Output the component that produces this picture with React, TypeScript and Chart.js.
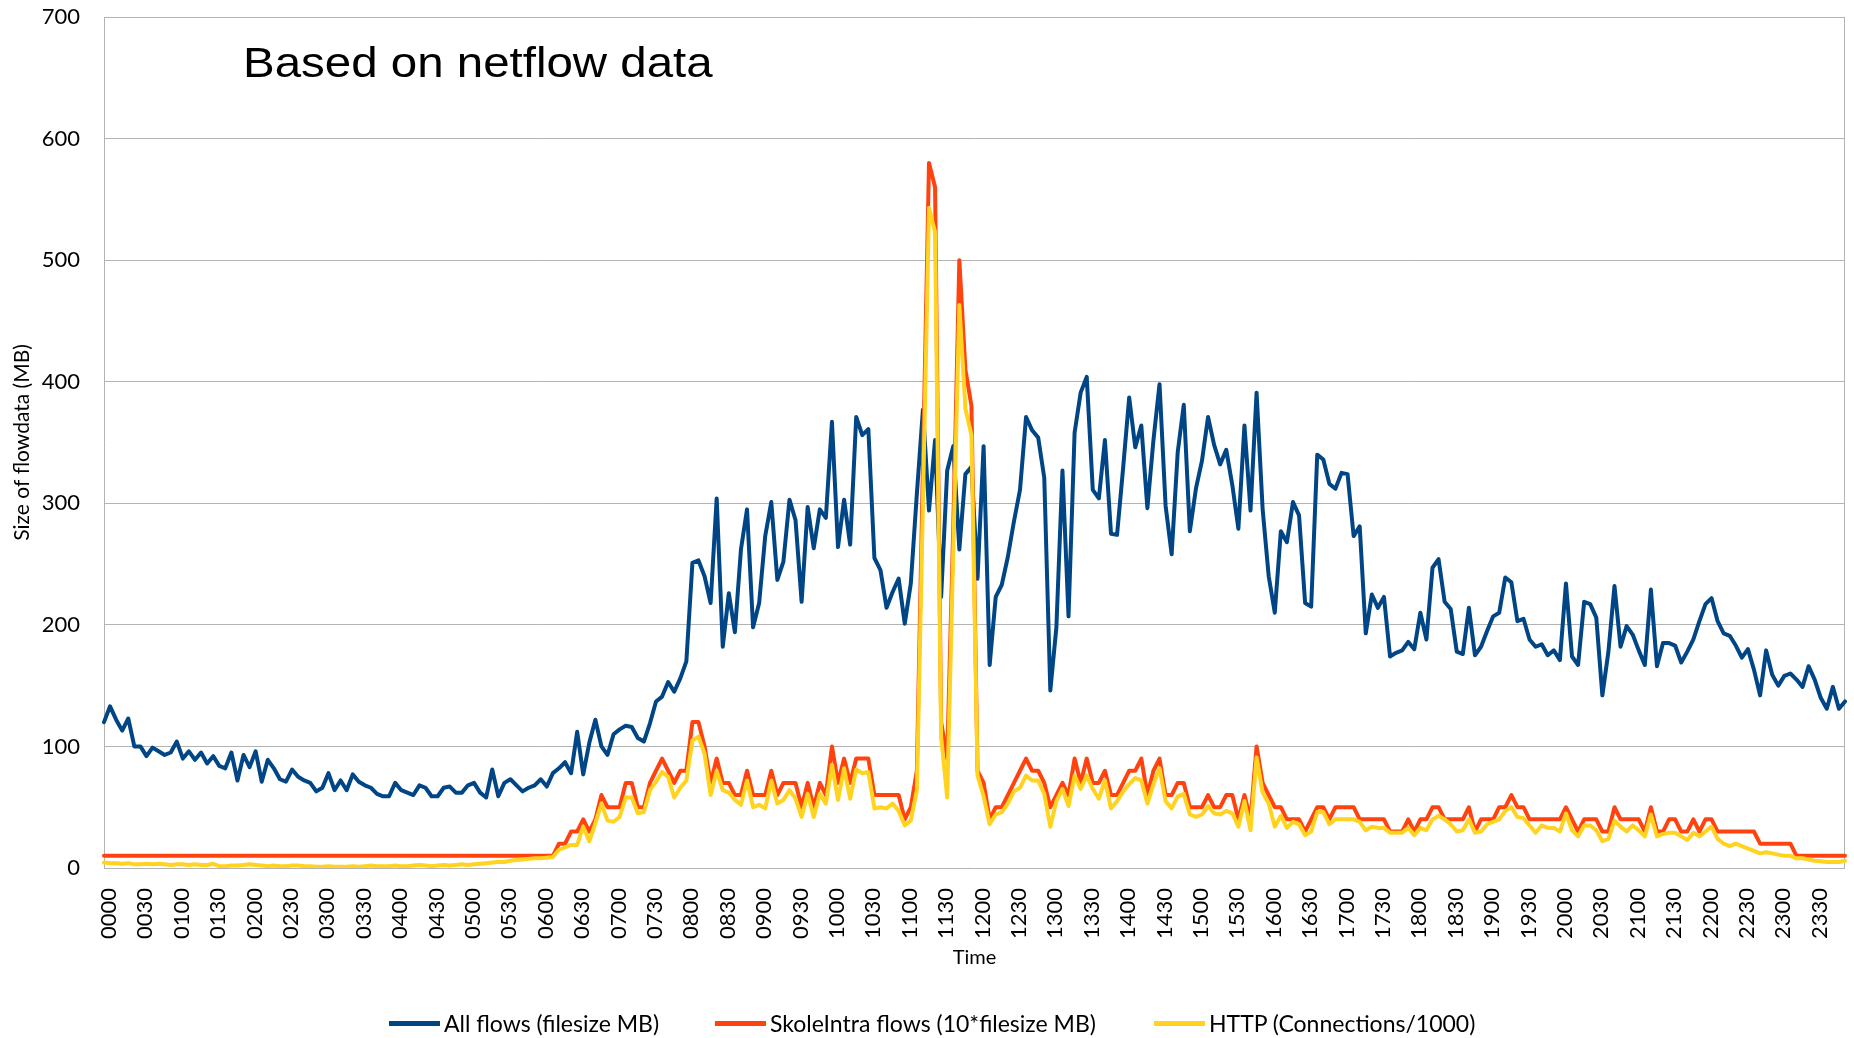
import React, { useEffect, useRef } from "react";
import { Chart, registerables } from "chart.js";

Chart.register(...registerables);

// Categories: one sample every 5 minutes, 0000 .. 2355
const CATEGORIES: string[] = [];
for (let h = 0; h < 24; h++) {
  for (let m = 0; m < 60; m += 5) {
    CATEGORIES.push(String(h).padStart(2, "0") + String(m).padStart(2, "0"));
  }
}
const TICK_EVERY = 6; // a label every 30 minutes

const SERIES_NAMES = [
  "All flows (filesize MB)",
  "SkoleIntra flows (10*filesize MB)",
  "HTTP (Connections/1000)",
];
const SERIES_COLORS = ["#004586", "#ff420e", "#ffd320"];

const Y_MIN = 0;
const Y_MAX = 700;
const Y_STEP = 100;

const ALL_FLOWS = [
  120, 133, 122, 113, 123, 100, 100, 92, 99, 96,
  93, 95, 104, 90, 96, 89, 95, 86, 92, 84,
  82, 95, 72, 93, 83, 96, 71, 89, 82, 73,
  71, 81, 75, 72, 70, 63, 66, 78, 64, 72,
  64, 77, 71, 68, 66, 61, 59, 59, 70, 64,
  62, 60, 68, 66, 59, 59, 66, 67, 62, 62,
  68, 70, 62, 58, 81, 59, 70, 73, 68, 63,
  66, 68, 73, 67, 78, 82, 87, 78, 112, 77,
  103, 122, 100, 93, 110, 114, 117, 116, 107, 104,
  119, 137, 141, 153, 145, 156, 170, 251, 253, 240,
  218, 304, 182, 226, 194, 262, 295, 198, 218, 273,
  301, 237, 252, 303, 286, 219, 297, 263, 295, 288,
  367, 264, 303, 266, 371, 356, 361, 255, 245, 214,
  227, 238, 201, 234, 308, 377, 294, 352, 223, 327,
  347, 262, 324, 330, 238, 347, 167, 223, 233, 256,
  285, 311, 371, 360, 354, 321, 146, 198, 327, 207,
  358, 391, 404, 311, 304, 352, 275, 274, 329, 387,
  346, 364, 296, 352, 398, 298, 258, 342, 381, 277,
  312, 335, 371, 348, 332, 344, 315, 279, 364, 294,
  391, 295, 240, 210, 277, 268, 301, 290, 218, 215,
  340, 336, 316, 312, 325, 324, 273, 281, 193, 225,
  214, 223, 174, 177, 179, 186, 180, 210, 188, 247,
  254, 219, 213, 178, 176, 214, 175, 182, 195, 207,
  210, 239, 235, 203, 205, 188, 182, 184, 175, 179,
  171, 234, 174, 167, 219, 217, 206, 142, 178, 232,
  182, 199, 192, 179, 167, 229, 166, 185, 185, 183,
  169, 178, 188, 203, 217, 222, 203, 193, 191, 183,
  173, 180, 163, 142, 179, 159, 150, 158, 160, 155,
  149, 166, 155, 140, 131, 149, 131, 137,
];

const SKOLEINTRA_FLOWS = [
  10, 10, 10, 10, 10, 10, 10, 10, 10, 10,
  10, 10, 10, 10, 10, 10, 10, 10, 10, 10,
  10, 10, 10, 10, 10, 10, 10, 10, 10, 10,
  10, 10, 10, 10, 10, 10, 10, 10, 10, 10,
  10, 10, 10, 10, 10, 10, 10, 10, 10, 10,
  10, 10, 10, 10, 10, 10, 10, 10, 10, 10,
  10, 10, 10, 10, 10, 10, 10, 10, 10, 10,
  10, 10, 10, 10, 10, 20, 20, 30, 30, 40,
  30, 40, 60, 50, 50, 50, 70, 70, 50, 50,
  70, 80, 90, 80, 70, 80, 80, 120, 120, 100,
  70, 90, 70, 70, 60, 60, 80, 60, 60, 60,
  80, 60, 70, 70, 70, 50, 70, 50, 70, 60,
  100, 70, 90, 70, 90, 90, 90, 60, 60, 60,
  60, 60, 40, 50, 80, 330, 580, 560, 120, 90,
  280, 500, 410, 380, 80, 70, 40, 50, 50, 60,
  70, 80, 90, 80, 80, 70, 50, 60, 70, 60,
  90, 70, 90, 70, 70, 80, 60, 60, 70, 80,
  80, 90, 60, 80, 90, 60, 60, 70, 70, 50,
  50, 50, 60, 50, 50, 60, 60, 40, 60, 40,
  100, 70, 60, 50, 50, 40, 40, 40, 30, 40,
  50, 50, 40, 50, 50, 50, 50, 40, 40, 40,
  40, 40, 30, 30, 30, 40, 30, 40, 40, 50,
  50, 40, 40, 40, 40, 50, 30, 40, 40, 40,
  50, 50, 60, 50, 50, 40, 40, 40, 40, 40,
  40, 50, 40, 30, 40, 40, 40, 30, 30, 50,
  40, 40, 40, 40, 30, 50, 30, 30, 40, 40,
  30, 30, 40, 30, 40, 40, 30, 30, 30, 30,
  30, 30, 30, 20, 20, 20, 20, 20, 20, 10,
  10, 10, 10, 10, 10, 10, 10, 10,
];

const HTTP_CONNECTIONS = [
  4.5, 4, 4, 3.5, 4, 3, 3, 3.5, 3, 3.5,
  3, 2.5, 3, 3, 2.5, 3, 2.5, 2.5, 3.5, 1.5,
  1.5, 2, 2, 2.5, 3, 2.5, 2, 1.5, 2, 1.5,
  1.5, 2, 2, 1.5, 1.5, 1, 1, 1.5, 1, 1,
  1, 1.5, 1, 1.5, 2, 1.5, 1.5, 1.5, 2, 1.5,
  1.5, 2, 2.5, 2, 1.5, 2, 2.5, 2, 2.5, 3,
  2.5, 3, 3.5, 4, 4.5, 5, 5, 6, 6.5, 7,
  7.5, 8, 8, 8.5, 9, 15, 17, 19, 19, 34,
  22, 37, 53, 39, 38, 42, 58, 58, 45, 46,
  64, 71, 79, 75, 58, 66, 72, 105, 108, 94,
  60, 80, 64, 62, 56, 52, 72, 50, 52, 49,
  72, 53, 56, 64, 57, 42, 61, 42, 61, 53,
  85, 56, 82, 57, 81, 78, 79, 49, 50, 49,
  53, 47, 35, 39, 64, 300, 543, 523, 108, 58,
  260, 463, 378, 356, 76, 59, 36, 44, 46, 53,
  63, 66, 76, 72, 72, 61, 34, 55, 65, 51,
  76, 65, 76, 65, 57, 72, 49, 55, 63, 69,
  74, 72, 53, 69, 82, 55, 49, 59, 61, 44,
  42, 44, 51, 45, 44, 47, 45, 34, 55, 31,
  91, 62, 53, 34, 43, 33, 38, 36, 27, 30,
  46, 46, 36, 40, 40, 40, 40, 38, 31, 34,
  33, 33, 29, 29, 29, 33, 27, 33, 31, 40,
  43, 40, 36, 30, 31, 40, 29, 30, 36, 38,
  40, 47, 50, 42, 41, 35, 29, 35, 33, 33,
  30, 45, 31, 26, 35, 35, 31, 22, 24, 39,
  34, 30, 35, 31, 26, 44, 26, 28, 29, 29,
  26, 23, 29, 26, 30, 34, 24, 20, 18, 20,
  18, 16, 14, 12, 13, 12, 11, 10, 10, 8,
  8, 7, 6, 5.5, 5, 5, 5, 6,
];

const CHART_TITLE = "Based on netflow data";
const X_TITLE = "Time";
const Y_TITLE = "Size of flowdata (MB)";

const FONT = "Lato, 'Open Sans', sans-serif";
const GRID = "#b3b3b3";

const framePlugin = {
  id: "plotFrame",
  beforeDatasetsDraw(chart: any) {
    const { ctx, chartArea } = chart;
    const { left, right, top, bottom } = chartArea;
    ctx.save();
    ctx.strokeStyle = GRID;
    ctx.lineWidth = 1;
    ctx.beginPath();
    ctx.moveTo(Math.round(left) + 0.5, top);
    ctx.lineTo(Math.round(left) + 0.5, bottom);
    ctx.moveTo(Math.round(right) - 0.5, top);
    ctx.lineTo(Math.round(right) - 0.5, bottom);
    ctx.stroke();
    ctx.restore();
  },
};

const insetTitlePlugin = {
  id: "insetTitle",
  afterDraw(chart: any) {
    const { ctx } = chart;
    ctx.save();
    ctx.font = "42px 'Liberation Sans', Arial, sans-serif";
    ctx.fillStyle = "#000";
    ctx.textBaseline = "alphabetic";
    ctx.textAlign = "left";
    ctx.translate(243, 77);
    ctx.scale(1.13, 1);
    ctx.fillText(CHART_TITLE, 0, 0);
    ctx.restore();
  },
};

const LEGEND_POS = [389, 715, 1154];

export default function App() {
  const canvasRef = useRef<HTMLCanvasElement | null>(null);

  useEffect(() => {
    if (!canvasRef.current) return;
    const seriesData = [ALL_FLOWS, SKOLEINTRA_FLOWS, HTTP_CONNECTIONS];
    const chart = new Chart(canvasRef.current, {
      type: "line",
      data: {
        labels: CATEGORIES,
        datasets: seriesData.map((d, i) => ({
          label: SERIES_NAMES[i],
          data: d,
          borderColor: SERIES_COLORS[i],
          backgroundColor: SERIES_COLORS[i],
          borderWidth: 4,
          pointRadius: 0,
          pointHoverRadius: 0,
          tension: 0,
          fill: false,
          borderJoinStyle: "round" as const,
          borderCapStyle: "round" as const,
          order: 3 - i,
        })),
      },
      plugins: [framePlugin, insetTitlePlugin],
      options: {
        responsive: false,
        animation: false,
        events: [],
        layout: { padding: { top: 17, right: 9, bottom: 0, left: 0 } },
        plugins: {
          legend: { display: false },
          tooltip: { enabled: false },
          title: { display: false },
        },
        scales: {
          x: {
            type: "category",
            offset: false,
            grid: { display: false, drawTicks: false },
            border: { display: false },
            ticks: {
              autoSkip: false,
              minRotation: 90,
              maxRotation: 90,
              padding: 20,
              labelOffset: 5,
              color: "#000",
              font: { family: FONT, size: 22 },
              callback: (_v: any, idx: number) =>
                idx % TICK_EVERY === 0 ? CATEGORIES[idx] : "",
            },
            title: {
              display: true,
              text: X_TITLE,
              color: "#000",
              font: { family: FONT, size: 20 },
              padding: { top: 0, bottom: 68 },
            },
            afterFit: (s: any) => {
              s.height = 170;
              s.paddingLeft = 0;
              s.paddingRight = 0;
            },
          },
          y: {
            min: Y_MIN,
            max: Y_MAX,
            grid: { color: GRID, lineWidth: 1, drawTicks: false },
            border: { display: false },
            ticks: {
              stepSize: Y_STEP,
              padding: 24,
              color: "#000",
              font: { family: FONT, size: 22 },
            },
            title: {
              display: true,
              text: Y_TITLE,
              color: "#000",
              font: { family: FONT, size: 21 },
              padding: { top: 10, bottom: 0 },
            },
            afterFit: (s: any) => {
              s.width = 104;
              s.paddingTop = 0;
              s.paddingBottom = 0;
            },
          },
        },
      },
    });
    return () => chart.destroy();
  }, []);

  return (
    <div
      style={{
        position: "absolute",
        left: 0,
        top: 0,
        width: 1854,
        height: 1038,
        background: "#fff",
        overflow: "hidden",
      }}
    >
      <canvas
        ref={canvasRef}
        width={1854}
        height={1038}
        style={{ width: 1854, height: 1038, display: "block" }}
      />
      {SERIES_NAMES.map((name, i) => (
        <div
          key={name}
          style={{
            position: "absolute",
            left: LEGEND_POS[i],
            top: 1023 - 15,
            height: 30,
            display: "flex",
            alignItems: "center",
            fontFamily: FONT,
            fontSize: 23,
            color: "#000",
            whiteSpace: "nowrap",
          }}
        >
          <span
            style={{
              display: "inline-block",
              width: 51,
              height: 5,
              background: SERIES_COLORS[i],
              marginRight: 4,
            }}
          />
          <span>{name}</span>
        </div>
      ))}
    </div>
  );
}
